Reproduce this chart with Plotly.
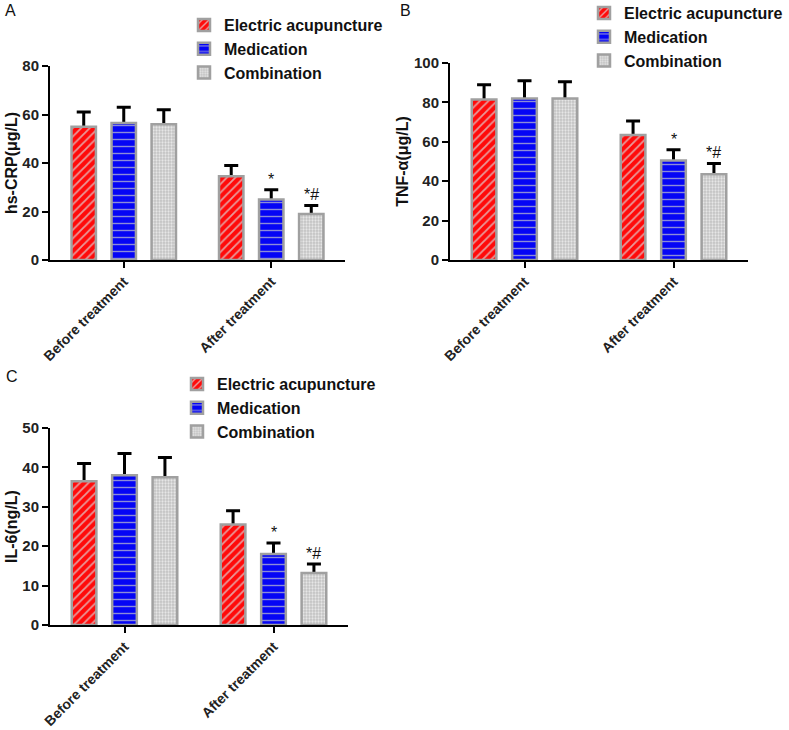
import plotly.graph_objects as go

categories = ["Before treatment", "After treatment"]
groups = ["Electric acupuncture", "Medication", "Combination"]

# Panel A: hs-CRP (μg/L)
crp_mean = {"Electric acupuncture": [55.0, 34.5], "Medication": [56.5, 25.0], "Combination": [56.0, 19.0]}
crp_sd = {"Electric acupuncture": [6.0, 4.5], "Medication": [6.5, 4.0], "Combination": [6.0, 3.5]}
# Panel B: TNF-α (μg/L)
tnf_mean = {"Electric acupuncture": [81.5, 63.5], "Medication": [82.0, 50.5], "Combination": [82.0, 43.5]}
tnf_sd = {"Electric acupuncture": [7.5, 7.0], "Medication": [9.0, 5.5], "Combination": [8.5, 5.5]}
# Panel C: IL-6 (ng/L)
il6_mean = {"Electric acupuncture": [36.5, 25.5], "Medication": [38.0, 18.0], "Combination": [37.5, 13.2]}
il6_sd = {"Electric acupuncture": [4.5, 3.5], "Medication": [5.5, 2.8], "Combination": [5.0, 2.3]}

sig_marks = {"Electric acupuncture": ["", ""], "Medication": ["", "*"], "Combination": ["", "*#"]}

panels = [
    ("A", crp_mean, crp_sd, "hs-CRP(μg/L)", 80, 20),
    ("B", tnf_mean, tnf_sd, "TNF-α(μg/L)", 100, 20),
    ("C", il6_mean, il6_sd, "IL-6(ng/L)", 50, 10),
]

W, H = 789, 730
# screen pixel boxes (left, right, top, bottom) of each plot area
boxes = [(50, 345, 66, 260), (450, 748, 63, 260), (50, 348, 428, 625)]
legend_pos = [(184, 8), (584, -4), (177, 367)]
letter_pos = [(3, 11), (398, 11), (4, 376)]
BARGAP, GROUPGAP = 0.186, 0.39

styles = {
    "Electric acupuncture": dict(color="#ff0a0a", shape="/", fg="#e89a9a", size=6, solidity=0.3),
    "Medication": dict(color="#0505f5", shape="-", fg="#8c8cd8", size=7, solidity=0.2),
    "Combination": dict(color="#c2c2c2", shape=".", fg="#e6e6e6", size=3, solidity=0.45),
}

FONT = "Arial, Liberation Sans, sans-serif"


def px_x(v):
    return v / W


def px_y(v):
    return 1 - v / H


fig = go.Figure()
annotations = []
layout = {}

for i, (letter, means, sds, ytitle, ymax, dt) in enumerate(panels):
    sfx = "" if i == 0 else str(i + 1)
    xa, ya = "x" + sfx, "y" + sfx
    lg = "legend" + sfx
    # error bars carried by hidden bars drawn underneath (upper whisker only visible)
    for g in groups:
        fig.add_trace(go.Bar(
            x=categories, y=means[g], name=g, xaxis=xa, yaxis=ya, legend=lg, showlegend=False,
            offsetgroup=g, hoverinfo="skip",
            marker=dict(color="rgba(0,0,0,0)", line=dict(width=0)),
            error_y=dict(type="data", symmetric=False, array=sds[g],
                         arrayminus=[ymax * 0.04] * len(sds[g]),
                         color="black", thickness=3, width=7),
        ))
    for g in groups:
        st = styles[g]
        fig.add_trace(go.Bar(
            x=categories, y=means[g], name=g, xaxis=xa, yaxis=ya, legend=lg,
            offsetgroup=g,
            marker=dict(color=st["color"], line=dict(color="#a0a0a0", width=2.5),
                        pattern=dict(shape=st["shape"], fgcolor=st["fg"], bgcolor=st["color"],
                                     size=st["size"], solidity=st["solidity"], fillmode="replace")),
        ))
    l, r, t, b = boxes[i]
    layout["xaxis" + sfx] = dict(domain=[px_x(l), px_x(r)], anchor=ya, type="category", automargin=False,
                                 showline=True, linecolor="black", linewidth=2,
                                 ticks="outside", ticklen=6, tickwidth=2, tickcolor="black",
                                 tickangle=-45,
                                 tickfont=dict(family=FONT, size=14, color="#222", weight="bold"),
                                 showgrid=False, zeroline=False)
    layout["yaxis" + sfx] = dict(domain=[px_y(b), px_y(t)], anchor=xa, range=[0, ymax], dtick=dt,
                                 automargin=False,
                                 showline=True, linecolor="black", linewidth=2,
                                 ticks="outside", ticklen=6, tickwidth=2, tickcolor="black",
                                 tickfont=dict(family=FONT, size=15, color="#222", weight="bold"),
                                 title=dict(text=ytitle,
                                            font=dict(family=FONT, size=16, color="#111", weight="bold"),
                                            standoff=1),
                                 showgrid=False, zeroline=False)
    lx, ly = legend_pos[i]
    layout[lg] = dict(x=px_x(lx), y=px_y(ly), xanchor="left", yanchor="top",
                      font=dict(family=FONT, size=16, color="#111", weight="bold"),
                      bgcolor="rgba(0,0,0,0)", tracegroupgap=0, itemwidth=30)
    px, py = letter_pos[i]
    annotations.append(dict(text=letter, x=px_x(px), y=px_y(py), xref="paper", yref="paper",
                            xanchor="left", yanchor="middle", showarrow=False,
                            font=dict(family=FONT, size=16, color="#111")))
    # significance marks above error bars
    slot = (r - l) / 2 * (1 - BARGAP) / 3
    for gi, g in enumerate(groups):
        for ci, c in enumerate(categories):
            m = sig_marks[g][ci]
            if m:
                annotations.append(dict(text=m, x=c, y=means[g][ci] + sds[g][ci], xref=xa, yref=ya,
                                        xshift=(gi - 1) * slot, yshift=0, yanchor="bottom",
                                        showarrow=False,
                                        font=dict(family=FONT, size=16, color="#111")))

fig.update_layout(**layout)
fig.update_layout(width=W, height=H, margin=dict(l=0, r=0, t=0, b=0, autoexpand=False),
                  paper_bgcolor="white", plot_bgcolor="white",
                  barmode="group", bargap=BARGAP, bargroupgap=GROUPGAP,
                  annotations=annotations, showlegend=True)
fig.write_html("out.html", config={"displayModeBar": False},
               post_script="document.body.style.margin='0';")
